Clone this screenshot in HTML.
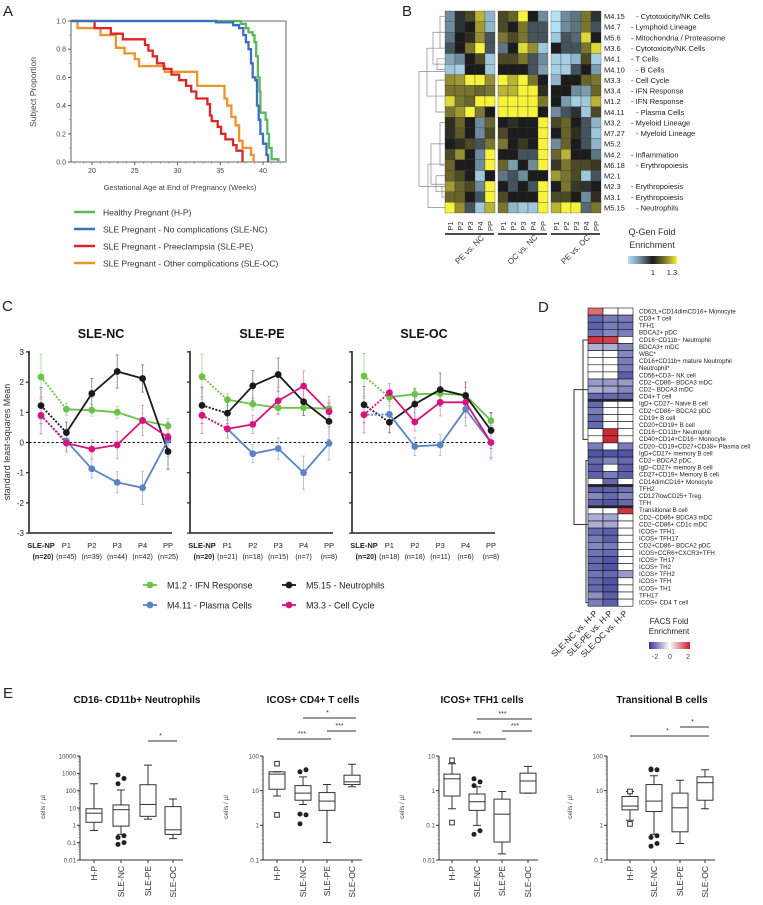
<!DOCTYPE html>
<html><head><meta charset="utf-8"><style>
html,body{margin:0;padding:0;background:#fff;width:763px;height:905px;overflow:hidden}
svg{display:block;font-family:"Liberation Sans",sans-serif}
</style></head><body>
<svg id="fig" width="763" height="905" viewBox="0 0 763 905"></svg>
<script>
// ===== Panel A data =====
const survGroups = ['Healthy Pregnant (H-P)','SLE Pregnant - No complications (SLE-NC)','SLE Pregnant - Preeclampsia (SLE-PE)','SLE Pregnant - Other complications (SLE-OC)'];
const survColors = ['#5cb85c','#3a6fc4','#d9262a','#f0922a'];
const hpTimes = [37.4,38,38.3,38.8,39,39.2,39.4,39.6,39.7,40.3,40.5,40.7,41,41.8];
const hpProps = [0.98,0.95,0.92,0.9,0.85,0.75,0.6,0.5,0.35,0.3,0.2,0.1,0.02,0];
const ncTimes = [34.5,36.5,37.2,37.7,38,38.3,38.6,38.8,39.1,39.3,39.5,39.7,40,40.4,40.6];
const ncProps = [0.99,0.97,0.95,0.9,0.85,0.8,0.7,0.6,0.58,0.4,0.3,0.2,0.13,0.05,0];
const peTimes = [20.3,22.2,23.6,26.2,26.6,27.1,27.6,28.4,29.3,30.2,31,31.6,32.2,33.5,33.8,34,34.7,35.1,35.6,36.5,36.9,37.6];
const peProps = [0.95,0.91,0.87,0.83,0.79,0.75,0.7,0.66,0.62,0.58,0.54,0.5,0.45,0.41,0.33,0.29,0.25,0.2,0.16,0.12,0.08,0];
const ocTimes = [18.3,21,22.8,23.8,25,25.5,28.5,32.3,35.5,35.8,36.3,36.8,37.2,37.6,38.6,38.9];
const ocProps = [0.95,0.9,0.81,0.77,0.73,0.68,0.64,0.54,0.45,0.4,0.32,0.26,0.15,0.1,0.05,0];
const aXTicks = [20,25,30,35,40];
const aYTicks = [0,0.2,0.4,0.6,0.8,1.0];

// ===== Panel B data =====
const bModules = ['M4.15','M4.7','M5.6','M3.6','M4.1','M4.10','M3.3','M3.4','M1.2','M4.11','M3.2','M7.27','M5.2','M4.2','M6.18','M2.1','M2.3','M3.1','M5.15'];
const bNames = ['Cytotoxicity/NK Cells','Lymphoid Lineage','Mitochondria / Proteasome','Cytotoxicity/NK Cells','T Cells','B Cells','Cell Cycle','IFN Response','IFN Response','Plasma Cells','Myeloid Lineage','Myeloid Lineage','','Inflammation','Erythropoiesis','','Erythropoiesis','Erythropoiesis','Neutrophils'];
const bCols = ['P1','P2','P3','P4','PP'];
const bGroups = ['PE vs. NC','OC vs. NC','PE vs. OC'];
const bPEvsNC = [[1,1.8,2.5,3.5,0.5],[1,1.8,2,3.3,0.5],[1.2,2,2.2,3.2,1.5],[1.5,2,3,4,1.5],[0.7,1,2,2.5,0.3],[0.3,0.2,2,2,0.3],[3.2,3.3,4,4,3.2],[3,3,3,2.8,3],[3.8,3,2.8,4,4],[3,3.3,4,3,2],[2.2,2.8,2,1,2.8],[2.2,2.7,2,1,2.5],[2,2.2,2.5,1.5,3],[2.5,3.2,2,1,4],[2.8,2,2,1,4],[2.8,2.5,2,0.3,2],[3.3,2.8,2.5,1,4],[2.8,2.8,2,1.5,4],[4,3.2,1.5,0.3,3.5]];
const bOCvsNC = [[2.5,2.8,4,2,1],[2.5,2,3,1.5,1.5],[3,2.5,3,1.5,1.5],[1.2,2,3.8,3.2,0.3],[2.5,2.5,3,1.5,1],[2,2,2,1.5,0.8],[4,3.5,4,3,2],[3.5,3.5,4,4,2.2],[4,4,4,4,3],[4,4,4,4,2],[2,2.2,2,2,4],[2.5,2,2,2,4],[3,2,2.3,2,4],[2,2,1.5,1.5,4],[2.8,0.8,2,1,4],[1.2,1.5,1,2,2],[2,1.5,2,1.5,4],[2.5,2,2,2,4],[3,0.5,0.3,0.3,4]];
const bPEvsOC = [[0,1,1.2,3,1.8],[0,1,1.2,3,1.5],[0.3,1.5,1.3,3.8,2],[2,1.5,1.5,3,3.8],[0.2,0.2,0.5,2.5,0.2],[0.2,0.2,1.5,2,0.8],[0.5,2,2,2.8,3],[2,2,1,0.8,2.8],[2,0.8,0.2,0.3,3.5],[1,1.5,1.8,0.3,2.5],[2.5,2.8,2,1.5,0.5],[2,2.8,2.2,1.5,0.3],[1,2.8,2,1.5,0.5],[2.8,3.5,2,2,1.2],[2.3,3,2.5,2.5,2.3],[3.3,3,2.5,0.3,1.5],[2,3,2.3,1.8,2],[2.5,2.5,2,1,2.2],[3.5,4,4,1.3,3]];

// ===== Panel C data =====
const cTimepoints = ['SLE-NP','P1','P2','P3','P4','PP'];
const cPanels = ['SLE-NC','SLE-PE','SLE-OC'];
const cNcounts = [['(n=20)','(n=45)','(n=39)','(n=44)','(n=42)','(n=25)'],['(n=20)','(n=21)','(n=18)','(n=15)','(n=7)','(n=8)'],['(n=20)','(n=18)','(n=18)','(n=11)','(n=6)','(n=8)']];
const cModules = ['M1.2 - IFN Response','M5.15 - Neutrophils','M4.11 - Plasma Cells','M3.3 - Cell Cycle'];
const cColors = ['#6cc24a','#1a1a1a','#5b84c4','#d6137f'];
const ncIFN = [2.17,1.1,1.07,1.0,0.73,0.55];
const ncNeut = [1.22,0.33,1.62,2.35,2.12,-0.3];
const ncPlasma = [0.88,0.05,-0.87,-1.32,-1.5,0.08];
const ncCycle = [0.9,-0.02,-0.22,-0.08,0.73,0.18];
const peIFN = [2.18,1.42,1.27,1.15,1.15,1.12];
const peNeut = [1.23,0.97,1.88,2.25,1.35,0.7];
const pePlasma = [0.9,0.45,-0.37,-0.2,-1.0,-0.03];
const peCycle = [0.9,0.45,0.6,1.38,1.87,1.02];
const ocIFN = [2.2,1.5,1.6,1.62,1.57,0.72];
const ocNeut = [1.25,0.67,1.27,1.75,1.55,0.4];
const ocPlasma = [0.92,0.93,-0.13,-0.08,1.1,0.0];
const ocCycle = [0.92,1.65,0.68,1.33,1.33,0.0];
const errIFN = [0.75,0.2,0.2,0.2,0.25,0.25];
const errNeut = [0.6,0.35,0.5,0.55,0.45,0.6];
const errPlasma = [0.6,0.3,0.3,0.35,0.55,0.55];
const errCycle = [0.6,0.3,0.3,0.45,0.5,0.5];
const cYTicks = [-3,-2,-1,0,1,2,3];

// ===== Panel D data =====
const dCells = ['CD62L+CD14dimCD16+ Monocyte','CD3+ T cell','TFH1','BDCA2+ pDC','CD16−CD11b− Neutrophil','BDCA3+ mDC','WBC*','CD16+CD11b+ mature Neutrophil','Neutrophil*','CD56+CD3− NK cell','CD2−CD86− BDCA3 mDC','CD2− BDCA3 mDC','CD4+ T cell','IgD+ CD27− Naive B cell','CD2−CD86− BDCA2 pDC','CD19+ B cell','CD20+CD19+ B cell','CD16−CD11b+ Neutrophil','CD40+CD14+CD16− Monocyte','CD20−CD19+CD27+CD38+ Plasma cell','IgD+CD27+ memory B cell','CD2− BDCA2 pDC','IgD−CD27+ memory B cell','CD27+CD19+ Memory B cell','CD14dimCD16+ Monocyte','TFH2','CD127lowCD25+ Treg','TFH','Transitional B cell','CD2−CD86+ BDCA3 mDC','CD2−CD86+ CD1c mDC','ICOS+ TFH1','ICOS+ TFH17','CD2+CD86− BDCA2 pDC','ICOS+CCR6+CXCR3+TFH','ICOS+ TH17','ICOS+ TH2','ICOS+ TFH2','ICOS+ TFH','ICOS+ TH1','TFH17','ICOS+ CD4 T cell'];
const dComparisons = ['SLE-NC vs. H-P','SLE-PE vs. H-P','SLE-OC vs. H-P'];
const dNC = [1.3,-1.5,-1.6,-1.4,1.8,-0.8,0,0,0,0,-1,-0.8,-1.5,-1.5,-1.3,-1.5,-1.5,0,0,-1.3,-1.7,-1.5,-1.6,-1.6,0,-1.6,-1.2,-1.6,0,-0.8,-0.8,-1.5,-1.3,-1.2,-1.4,-1.5,-1.5,-1.4,-1.5,-1.5,-1.1,-1.3];
const dPE = [0,-1.3,-1.3,-1.2,1.7,-0.8,0,0,0,0,-1,-0.9,-1.5,0,0,0,0,1.9,1.9,0,-1.7,-1.2,0,-1.3,-1.5,-1.6,-1.5,-1.7,0,-0.9,-0.9,-1.6,-1.6,-1.3,-1.5,-1.7,-1.7,-1.5,-1.7,-1.7,-1.6,-1.6];
const dOC = [0,-1.3,-1.4,-1.3,0,-1.2,-1.2,-1.3,-1.3,-1.6,-1,-1.2,-1.5,0,0,0,0,0,0,-1.3,-1.7,-1.5,-1.6,-1.6,0,-1.4,-1.2,-1.5,1.8,0,0,0,0,0,0,0,0,-1,0,0,0,0];
const dSeparators = [13,25,28];

// ===== Panel E data =====
const eTitles = ['CD16- CD11b+ Neutrophils','ICOS+ CD4+ T cells','ICOS+ TFH1 cells','Transitional B cells'];
const eGroups = ['H-P','SLE-NC','SLE-PE','SLE-OC'];
const eDecades = [[-2,4],[-1,2],[-2,1],[-1,2]];
const eLow = [[0.5,0.3,2.3,0.17],[7,4,0.32,13],[0.3,0.1,0.015,0.85],[1.4,0.55,0.3,3]];
const eQ1 = [[1.5,0.9,3.3,0.3],[11,5.3,2.7,15],[0.7,0.27,0.033,0.85],[2.8,2.5,0.65,5.3]];
const eMed = [[5,8,16,0.55],[30,8.5,5,18],[2.2,0.48,0.21,1.9],[3.6,5,3.2,17]];
const eQ3 = [[9,15,220,12],[35,14,8.8,28],[3,0.8,0.57,3.2],[6.8,15,8.5,25]];
const eHigh = [[250,110,3000,33],[35,25,15,58],[6,1.3,0.95,5],[9.5,27,20,40]];
const eOutHP = [[],[60,2],[7.5,0.12],[9.5,1.1]];
const eOutNC = [[800,500,250,0.25,0.2,0.1,0.08],[35,40,1.1,2,2.1],[2.2,1.8,1.4,0.07,0.055],[40,40,42,0.5,0.45,0.3,0.25]];
const eSigLabels = [['*'],['*','***','***'],['***','***','***'],['*','*']];
const eSigFrom = [[2],[1,0,2],[1,0,2],[0,2]];
const eSigTo = [[3],[3,2,3],[3,2,3],[3,3]];

// ===== helpers =====
const NS='http://www.w3.org/2000/svg';
const svg=document.getElementById('fig');
function mk(tag,attrs,parent){const el=document.createElementNS(NS,tag);for(const k in attrs)el.setAttribute(k,attrs[k]);(parent||svg).appendChild(el);return el;}
function tx(str,x,y,size,parent,extra){const el=mk('text',Object.assign({x:x,y:y,'font-size':size,fill:'#222'},extra||{}),parent);el.textContent=str;return el;}
function grp(){return mk('g',{});}

// panel letters
const letters=[['A',3,16],['B',402,16],['C',2,311],['D',538,312],['E',3,698]];
letters.forEach(l=>{const t=tx(l[0],l[1],l[2],15,svg);

});

// ===== Panel A =====
(function(){
const g=grp();


const xA=w=>92+(w-20)*8.55, yA=p=>162-p*141;
const fr=mk('rect',{x:71,y:21,width:215,height:141,fill:'none',stroke:'#666','stroke-width':1},g);


aXTicks.forEach(v=>{mk('line',{x1:xA(v),x2:xA(v),y1:162,y2:165,stroke:'#555'},g);
const t=tx(v,xA(v),173,7,g,{'text-anchor':'middle',fill:'#444'});

});
for(let v=18;v<=42;v++){mk('line',{x1:xA(v),x2:xA(v),y1:162,y2:164,stroke:'#777','stroke-width':0.5},g);}
aYTicks.forEach(v=>{mk('line',{x1:68,x2:71,y1:yA(v),y2:yA(v),stroke:'#555'},g);
const t=tx(v.toFixed(1),66,yA(v)+2.5,7,g,{'text-anchor':'end',fill:'#444'});

});
for(let v=0.1;v<1;v+=0.2){mk('line',{x1:69,x2:71,y1:yA(v),y2:yA(v),stroke:'#777','stroke-width':0.5},g);}
const xt=tx('Gestational Age at End of Pregnancy (Weeks)',180,190,7.5,g,{'text-anchor':'middle',fill:'#444'});


const yt=tx('Subject Proportion',36,92,8.5,g,{'text-anchor':'middle',fill:'#444',transform:'rotate(-90 36 92)'});


const series=[[hpTimes,hpProps],[ncTimes,ncProps],[peTimes,peProps],[ocTimes,ocProps]];
const order=[3,2,0,1];
order.forEach(i=>{const [ts,ps]=series[i];let d='M'+71+','+yA(1);
ts.forEach((t,k)=>{d+=' H'+xA(t).toFixed(1)+' V'+yA(ps[k]).toFixed(1);});
const p=mk('path',{d:d,fill:'none',stroke:survColors[i],'stroke-width':2.3},g);

});
survGroups.forEach((s,i)=>{const y=212+i*17;
const ln=mk('line',{x1:74,x2:95,y1:y,y2:y,stroke:survColors[i],'stroke-width':2.5},g);


const t=tx(s,103,y+3.5,8.5,g,{fill:'#333'});

});
})();

// ===== Panel B =====
(function(){
const g=grp();


const stops=[[0xb5,0xe0,0xf5],[0x6e,0x8c,0x9c],[0x1c,0x1c,0x1c],[0x7a,0x76,0x30],[0xf7,0xf2,0x3a]];
function col(v){v=Math.max(0,Math.min(4,v));const i=Math.min(3,Math.floor(v)),f=v-i;const a=stops[i],b=stops[i+1];
return 'rgb('+a.map((c,k)=>Math.round(c+(b[k]-c)*f)).join(',')+')';}
const lefts=[445,498,551], rh=10.63, top=11;
const mats=[bPEvsNC,bOCvsNC,bPEvsOC];
mats.forEach((m,b)=>{m.forEach((row,r)=>row.forEach((v,c)=>{
const rc=mk('rect',{x:lefts[b]+c*10,y:top+r*rh,width:10,height:rh,fill:col(v),stroke:'#333','stroke-width':0.3},g);

}));
bCols.forEach((c,k)=>{const x=lefts[b]+k*10+8;const t=tx(c,x,226,7.5,g,{transform:'rotate(-90 '+x+' 226)',fill:'#333'});


t.setAttribute('text-anchor','middle');});
const ul=mk('line',{x1:lefts[b],x2:lefts[b]+49,y1:234,y2:234,stroke:'#111','stroke-width':1.5},g);


const cx=lefts[b]+25;const t=tx(bGroups[b],cx,252,8,g,{'text-anchor':'middle',transform:'rotate(-45 '+cx+' 250)',fill:'#333'});

});
bModules.forEach((m,r)=>{const y=top+r*rh+rh/2+2.8;
const t=tx(m,604,y,7.5,g,{fill:'#222'});


if(bNames[r]){const t2=tx('- '+bNames[r],m.length>4?636:631,y,7.5,g,{fill:'#222'});

}});
// dendrogram
const yc=r=>top+r*rh+rh/2;
const dd=[[440,yc(0),yc(3)],[437,yc(4),yc(5)],[433,yc(1.5),yc(4.5)],[436,yc(6),yc(9)],[427,yc(3),yc(7.5)],[440,yc(10),yc(14)],[442,yc(16),yc(17)],[436,yc(15),yc(16.5)],[431,yc(12),yc(15.8)],[428,yc(13.9),yc(18)],[419,yc(5.2),yc(16)]];
dd.forEach(d=>{const p=mk('path',{d:'M445,'+d[1]+' H'+d[0]+' V'+d[2]+' H445',fill:'none',stroke:'#888','stroke-width':0.7},g);

});
// colorbar
const defs=mk('defs',{},g);const lg=mk('linearGradient',{id:'qgen'},defs);
stops.forEach((s,i)=>mk('stop',{offset:(i*25)+'%','stop-color':'rgb('+s.join(',')+')'},lg));
const cb=mk('rect',{x:628,y:256,width:49,height:8,fill:'url(#qgen)'},g);


const l1=tx('Q-Gen Fold',652,235,9,g,{'text-anchor':'middle',fill:'#333'});


const l2=tx('Enrichment',652,248,9,g,{'text-anchor':'middle',fill:'#333'});


const c1=tx('1',653,275,7.5,g,{'text-anchor':'middle'});


const c2=tx('1.3',672,275,7.5,g,{'text-anchor':'middle'});


})();

// ===== Panel C =====
(function(){
const g=grp();


const yC=v=>442.5-v*30.2;
const axL=[29,190,352];
const data=[[ncIFN,ncNeut,ncPlasma,ncCycle],[peIFN,peNeut,pePlasma,peCycle],[ocIFN,ocNeut,ocPlasma,ocCycle]];
const errs=[errIFN,errNeut,errPlasma,errCycle];
const lightCols=['#9fd88a','#777','#9fb6dd','#e98ac0'];
data.forEach((pd,p)=>{const L=axL[p];const xC=i=>L+12+i*25.4;
const ax=mk('path',{d:'M'+L+',351 V533 H'+(L+143),fill:'none',stroke:'#222','stroke-width':1.6},g);


cYTicks.forEach(v=>{mk('line',{x1:L-3,x2:L,y1:yC(v),y2:yC(v),stroke:'#222','stroke-width':1.2},g);
if(p===0){const t=tx(v,L-5,yC(v)+3,8,g,{'text-anchor':'end'});

}});
const z=mk('line',{x1:L,x2:L+143,y1:yC(0),y2:yC(0),stroke:'#111','stroke-dasharray':'2.5,2','stroke-width':1},g);


const ti=tx(cPanels[p],L+72,338,12.5,g,{'text-anchor':'middle','font-weight':'bold',fill:'#111'});


cTimepoints.forEach((tp,i)=>{const t=tx(tp,xC(i),548,7.5,g,{'text-anchor':'middle','font-weight':i===0?'bold':'normal'});


const n=tx(cNcounts[p][i],xC(i)+(i===0?2:0),559,7,g,{'text-anchor':'middle','font-weight':i===0?'bold':'normal'});

});
pd.forEach((vals,s)=>{
vals.forEach((v,i)=>{const e=mk('line',{x1:xC(i),x2:xC(i),y1:yC(v+errs[s][i]),y2:yC(v-errs[s][i]),stroke:lightCols[s],'stroke-width':0.8},g);


mk('line',{x1:xC(i)-1.5,x2:xC(i)+1.5,y1:yC(v+errs[s][i]),y2:yC(v+errs[s][i]),stroke:lightCols[s],'stroke-width':0.8},g);
mk('line',{x1:xC(i)-1.5,x2:xC(i)+1.5,y1:yC(v-errs[s][i]),y2:yC(v-errs[s][i]),stroke:lightCols[s],'stroke-width':0.8},g);});
const dl=mk('line',{x1:xC(0),y1:yC(vals[0]),x2:xC(1),y2:yC(vals[1]),stroke:cColors[s],'stroke-width':1.8,'stroke-dasharray':'2,1.5'},g);


let d='';for(let i=1;i<6;i++)d+=(i===1?'M':'L')+xC(i)+','+yC(vals[i]).toFixed(1);
const pl=mk('path',{d:d,fill:'none',stroke:cColors[s],'stroke-width':1.8},g);

});
pd.forEach((vals,s)=>vals.forEach((v,i)=>{const c=mk('circle',{cx:xC(i),cy:yC(v),r:3.4,fill:cColors[s]},g);

}));});
const yt=tx('standard least-squares Mean',10,442,9,g,{'text-anchor':'middle',transform:'rotate(-90 10 442)',fill:'#333'});


const lx=[143,282,143,282],ly=[585,585,605,605],lo=[0,1,2,3];
const legOrder=[0,1,2,3];const pos=[[143,585],[282,585],[143,605],[282,605]];
const idx=[0,1,2,3];
idx.forEach(k=>{const x=pos[k][0],y=pos[k][1];
mk('line',{x1:x,x2:x+14,y1:y,y2:y,stroke:cColors[k],'stroke-width':1.8},g);
const c=mk('circle',{cx:x+7,cy:y,r:3.4,fill:cColors[k]},g);


const t=tx(cModules[k],x+24,y+3.5,9,g,{fill:'#222'});

});
})();

// ===== Panel D =====
(function(){
const g=grp();


function col(v){v=Math.max(-2,Math.min(2,v));
if(v<0){const f=-v/2;return 'rgb('+Math.round(255-(255-52)*f)+','+Math.round(255-(255-55)*f)+','+Math.round(255-(255-150)*f)+')';}
const f=v/2;return 'rgb('+Math.round(255-(255-200)*f)+','+Math.round(255-(255-30)*f)+','+Math.round(255-(255-40)*f)+')';}
const L=588,cw=15,T=308,rh=7.1;
const mats=[dNC,dPE,dOC];
mats.forEach((arr,c)=>arr.forEach((v,r)=>{const rc=mk('rect',{x:L+c*cw,y:T+r*rh,width:cw,height:rh,fill:col(v),stroke:'#111','stroke-width':0.6},g);

}));
dSeparators.forEach(r=>{const s=mk('rect',{x:L,y:T+r*rh-1.4,width:cw*3,height:2.8,fill:'#222'},g);

});
dCells.forEach((n,r)=>{const t=tx(n,639,T+r*rh+5.4,6.2,g,{fill:'#222'});

});
dComparisons.forEach((n,c)=>{const x=L+c*cw+10,y=614;const t=tx(n,x,y,8.5,g,{'text-anchor':'end',transform:'rotate(-45 '+x+' '+y+')',fill:'#222'});

});
const yr=r=>T+r*rh+rh/2;
const dd=[[583,yr(4),yr(18)],[586,yr(21),yr(41)],[574,yr(11),yr(30)]];
dd.forEach(d=>{const p=mk('path',{d:'M588,'+d[1]+' H'+d[0]+' V'+d[2]+' H588',fill:'none',stroke:'#333','stroke-width':1},g);

});
const defs=mk('defs',{},g);const lg=mk('linearGradient',{id:'facs'},defs);
[[0,'#343796'],[50,'#ffffff'],[100,'#c81e28']].forEach(s=>mk('stop',{offset:s[0]+'%','stop-color':s[1]},lg));
const cb=mk('rect',{x:649,y:642,width:41,height:7,fill:'url(#facs)'},g);


const a=tx('FACS Fold',669,624,8,g,{'text-anchor':'middle'});


const b=tx('Enrichment',669,634,8,g,{'text-anchor':'middle'});


[['-2',655],['0',670],['2',688]].forEach(k=>{const t=tx(k[0],k[1],659,7,g,{'text-anchor':'middle',fill:'#444'});

});
})();

// ===== Panel E =====
(function(){
const axX=[80,263,439,607];
const boxX=[[94,121,148,173],[277,303,327,352],[452,477,502,528],[630,654,680,705]];
const titleX=[137,313,482,662];
const yTop=756,yBot=860;
eTitles.forEach((title,p)=>{
const g=grp();


const [d0,d1]=eDecades[p];
const yE=v=>yBot-(Math.log10(v)-d0)/(d1-d0)*(yBot-yTop);
const L=axX[p],R=boxX[p][3]+10;
const ax=mk('path',{d:'M'+L+','+yTop+' V'+yBot+' H'+R,fill:'none',stroke:'#333','stroke-width':1},g);


for(let d=d0;d<=d1;d++){const y=yE(Math.pow(10,d));mk('line',{x1:L-3,x2:L,y1:y,y2:y,stroke:'#333'},g);
for(let m=2;m<10&&d<d1;m++){const ym=yE(m*Math.pow(10,d));mk('line',{x1:L-1.5,x2:L,y1:ym,y2:ym,stroke:'#666','stroke-width':0.5},g);}
const lab=d<0?Math.pow(10,d).toFixed(-d):String(Math.pow(10,d));
const t=tx(lab,L-4,y+2.3,6.3,g,{'text-anchor':'end',fill:'#444'});

}
const yl=tx('cells / µl',L-35,807,6.5,g,{'text-anchor':'middle',transform:'rotate(-90 '+(L-35)+' 807)',fill:'#444'});


const ti=tx(title,titleX[p],703,10,g,{'text-anchor':'middle','font-weight':'bold',fill:'#111'});


eGroups.forEach((gn,i)=>{const x=boxX[p][i];
mk('line',{x1:x,x2:x,y1:yBot,y2:yBot+3,stroke:'#333'},g);
const t=tx(gn,x+3,866,8.5,g,{'text-anchor':'end',transform:'rotate(-90 '+(x+3)+' 866)',fill:'#333'});


const lo=yE(eLow[p][i]),q1=yE(eQ1[p][i]),md=yE(eMed[p][i]),q3=yE(eQ3[p][i]),hi=yE(eHigh[p][i]);
const w=mk('path',{d:'M'+x+','+hi+' V'+q3+' M'+x+','+q1+' V'+lo+' M'+(x-4)+','+hi+' H'+(x+4)+' M'+(x-4)+','+lo+' H'+(x+4),stroke:'#333','stroke-width':1,fill:'none'},g);


const bx=mk('rect',{x:x-8,y:q3,width:16,height:Math.max(0.5,q1-q3),fill:'none',stroke:'#333','stroke-width':1},g);


const ml=mk('line',{x1:x-8,x2:x+8,y1:md,y2:md,stroke:'#333','stroke-width':1},g);

});
eOutHP[p].forEach(v=>{const s=mk('rect',{x:boxX[p][0]-2.3,y:yE(v)-2.3,width:4.6,height:4.6,fill:'#fff',stroke:'#333','stroke-width':1},g);

});
eOutNC[p].forEach((v,k)=>{const c=mk('circle',{cx:boxX[p][1]+(k%2?3:-3),cy:yE(v),r:2.5,fill:'#222'},g);

});
eSigLabels[p].forEach((lab,k)=>{const x1=boxX[p][eSigFrom[p][k]],x2=boxX[p][eSigTo[p][k]];
const lvl=[[741],[718,739,731],[719,739,731],[736,727]][p][k];
const ln=mk('line',{x1:x1,x2:x2+4,y1:lvl,y2:lvl,stroke:'#333','stroke-width':1},g);


const t=tx(lab,(x1+x2)/2,lvl-3,7,g,{'text-anchor':'middle',fill:'#333'});

});
});
})();
</script>
</body></html>
